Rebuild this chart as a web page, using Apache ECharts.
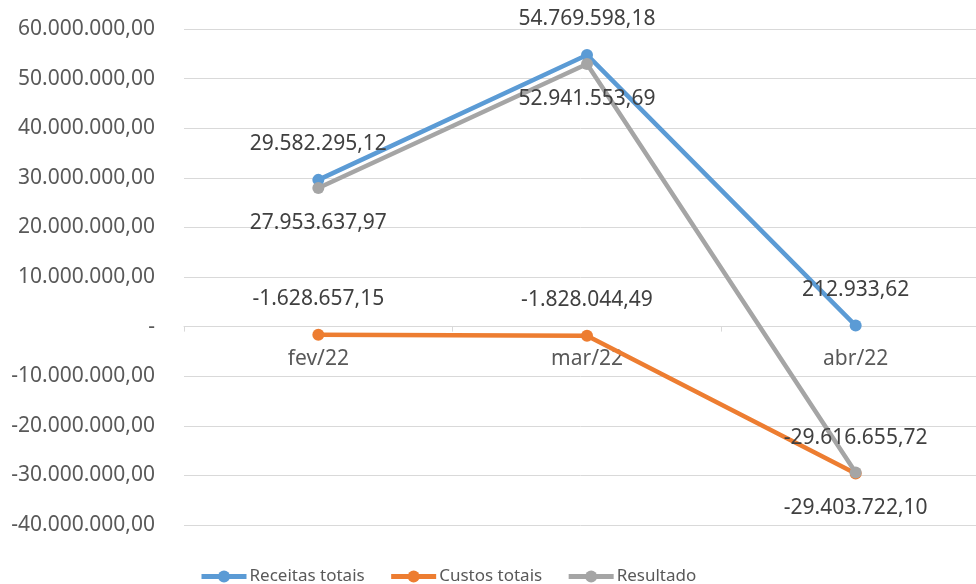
<!DOCTYPE html>
<html>
<head>
<meta charset="utf-8">
<script src="https://cdn.jsdelivr.net/npm/echarts@6/dist/echarts.min.js"></script>
<style>
  html, body { margin: 0; padding: 0; background: #fff; }
  #chart { width: 976px; height: 584px; }
</style>
</head>
<body>
<div id="chart"></div>
<script>
var months = ['fev/22', 'mar/22', 'abr/22']
var receitas = [29582295.12, 54769598.18, 212933.62]
var custos = [-1628657.15, -1828044.49, -29616655.72]
var resultado = [27953637.97, 52941553.69, -29403722.1]

var textFont = 'Noto Sans'

function brl(v) {
  if (v === 0) return '-'
  return v.toLocaleString('pt-BR', { minimumFractionDigits: 2, maximumFractionDigits: 2 })
}

function lineSeries(name, values, color, pos) {
  return {
    name: name,
    type: 'line',
    data: values,
    symbol: 'circle',
    symbolSize: 12,
    lineStyle: { width: 4.5, color: color },
    itemStyle: { color: color },
    label: {
      show: true,
      position: pos,
      distance: 19,
      color: '#404040',
      fontFamily: textFont,
      fontSize: 21,
      formatter: function (p) { return brl(p.value) }
    },
    animation: false
  }
}

var chart = echarts.init(document.getElementById('chart'))
var option = {
  backgroundColor: '#fff',
  animation: false,
  // plot area runs a little past the right edge of the picture
  grid: { left: 184, width: 806, top: 29, bottom: 59, outerBoundsMode: 'none' },
  legend: {
    top: 563,
    left: 194,
    itemWidth: 45,
    itemHeight: 15,
    itemGap: 24,
    lineStyle: { width: 5 },
    textStyle: { color: '#595959', fontFamily: textFont, fontSize: 17, padding: [0, 0, 0, -2] },
    data: ['Receitas totais', 'Custos totais', 'Resultado']
  },
  xAxis: {
    type: 'category',
    data: months,
    boundaryGap: true,
    axisLine: { onZero: true, lineStyle: { color: '#D9D9D9', width: 1 } },
    axisTick: { show: true, length: 5, lineStyle: { color: '#D9D9D9' } },
    // labels sit just under the zero line, like the Excel original
    axisLabel: { color: '#595959', fontFamily: textFont, fontSize: 21, margin: -176 },
    splitLine: { show: false }
  },
  yAxis: {
    type: 'value',
    min: -40000000,
    max: 60000000,
    interval: 10000000,
    axisLine: { show: false },
    axisTick: { show: false },
    axisLabel: {
      color: '#595959',
      fontFamily: textFont,
      fontSize: 21,
      margin: 29,
      formatter: brl
    },
    splitLine: { lineStyle: { color: '#D9D9D9', width: 1 } }
  },
  series: [
    lineSeries('Receitas totais', receitas, '#5B9BD5', 'top'),
    lineSeries('Custos totais', custos, '#ED7D31', 'top'),
    lineSeries('Resultado', resultado, '#A5A5A5', 'bottom')
  ]
}
chart.setOption(option)
window.addEventListener('resize', function () { chart.resize() })
</script>
</body>
</html>
